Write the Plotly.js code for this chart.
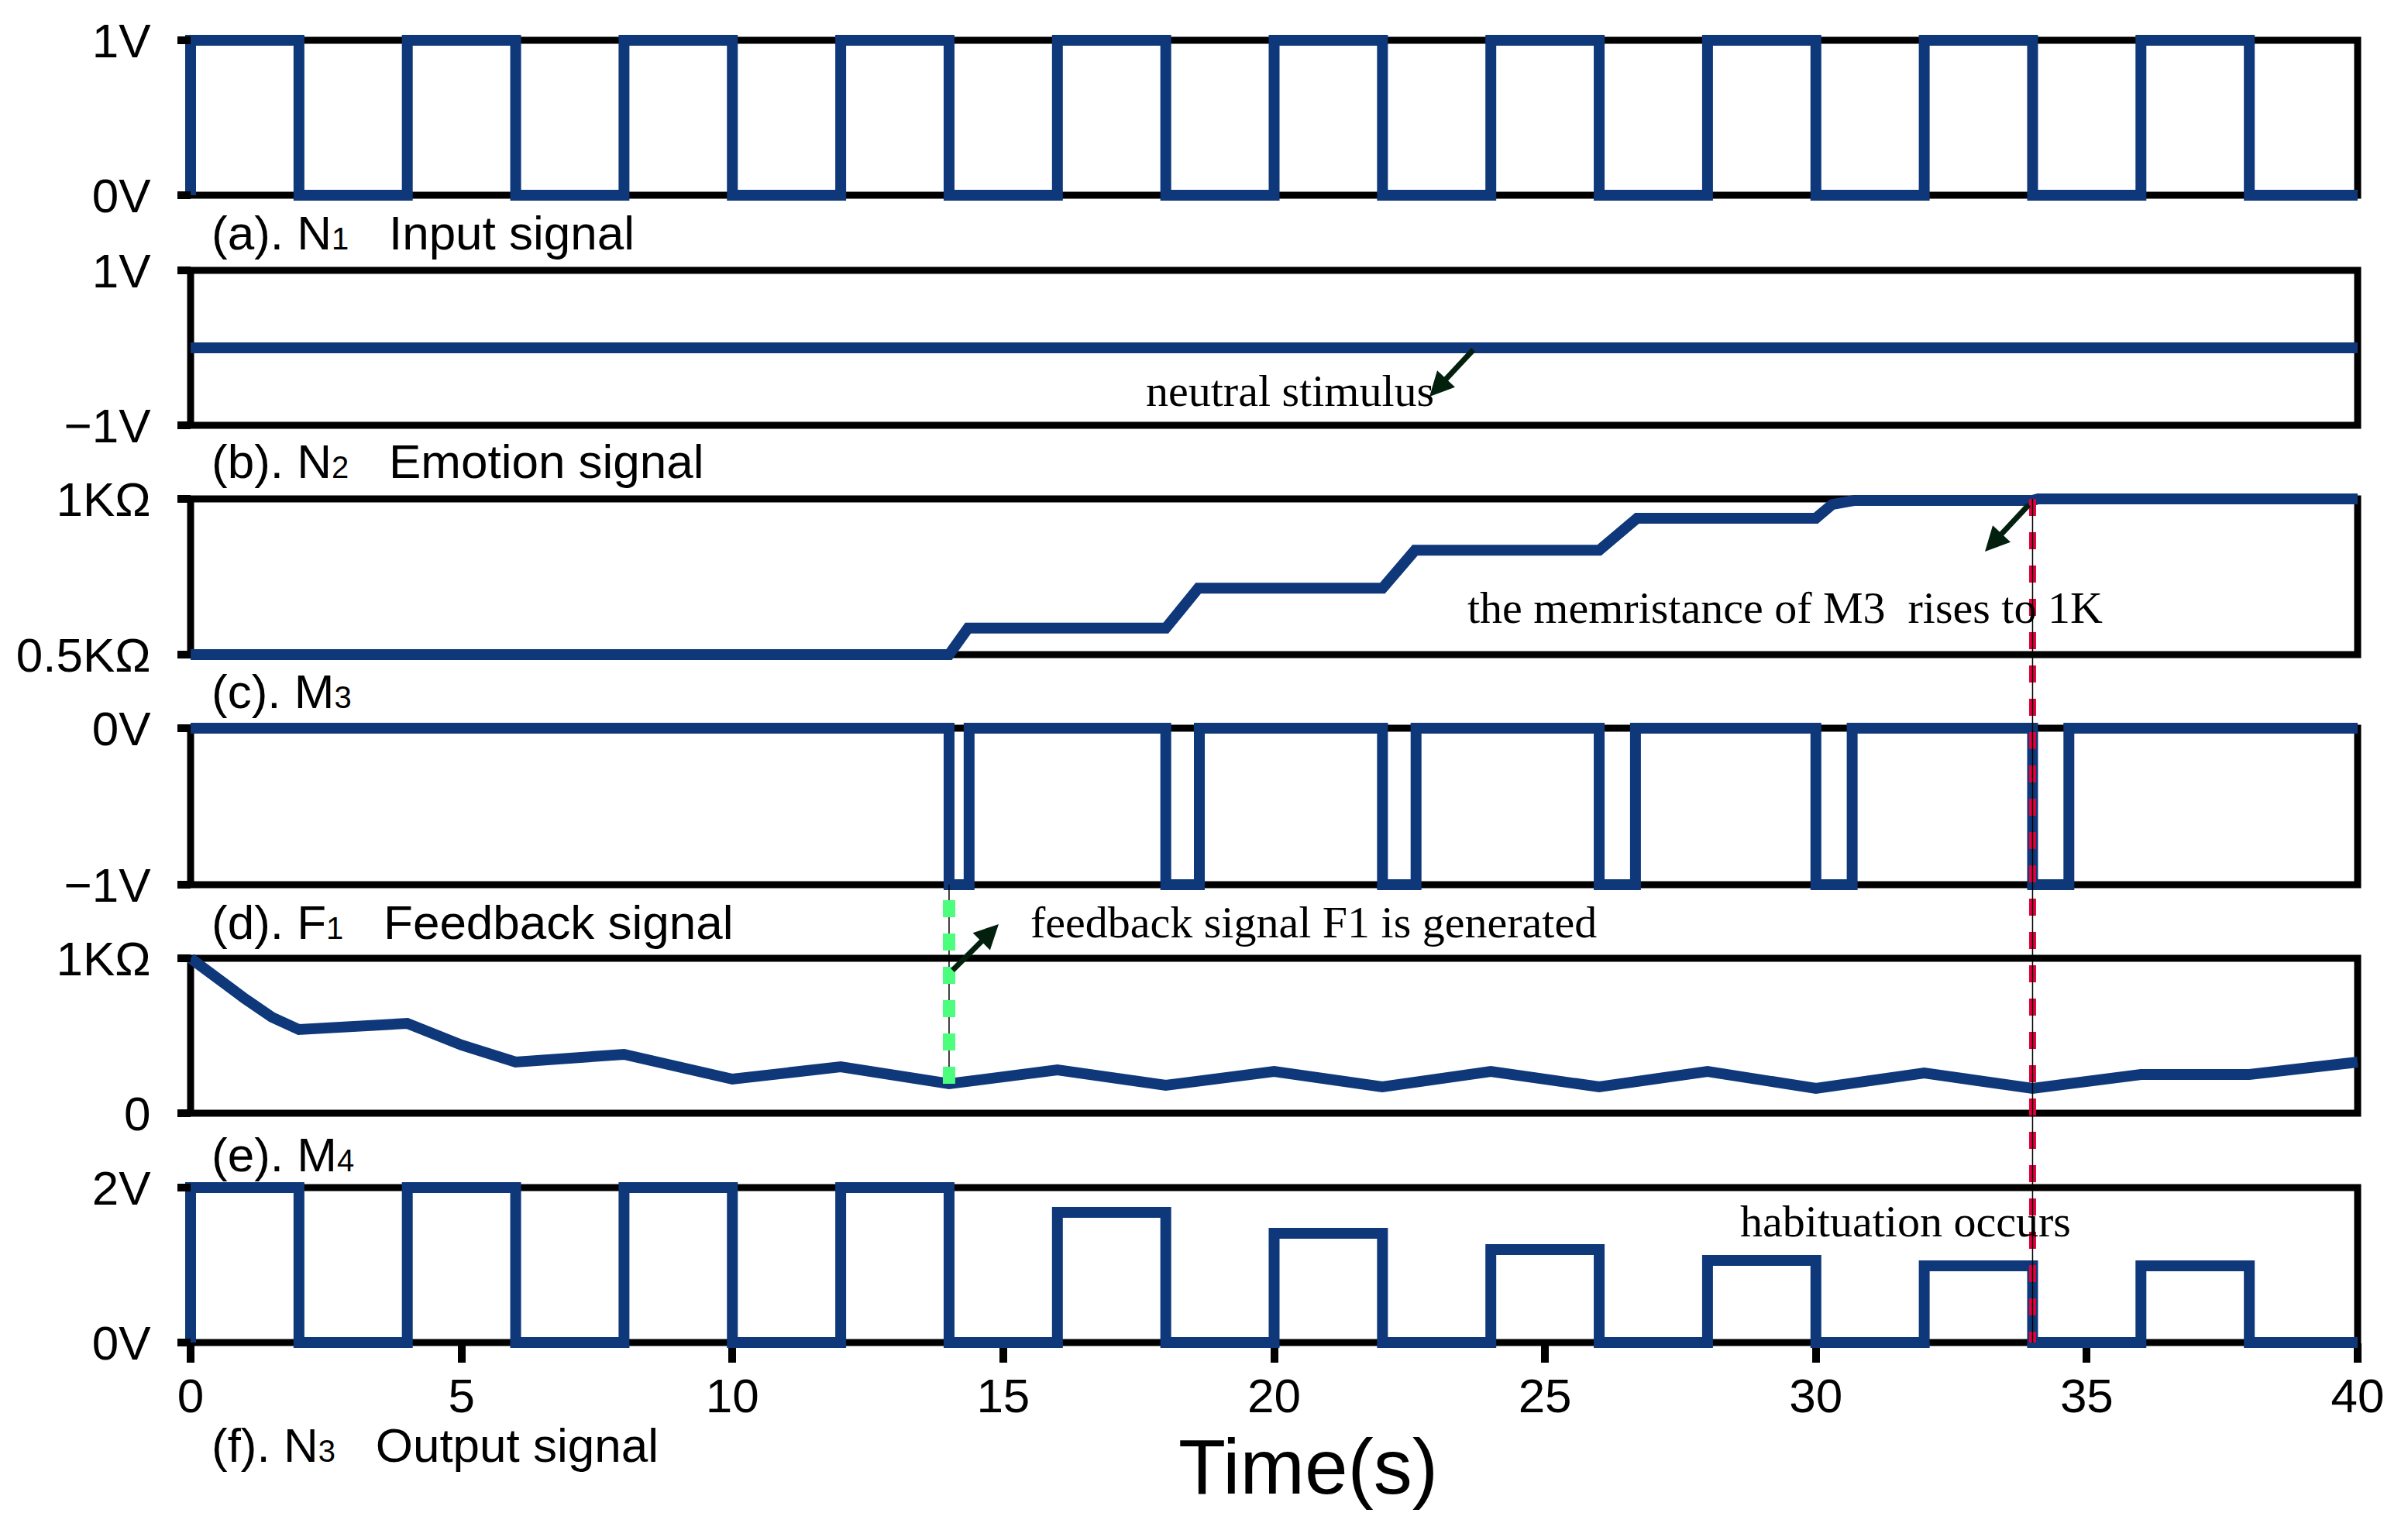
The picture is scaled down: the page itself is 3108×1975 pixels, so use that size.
<!DOCTYPE html>
<html>
<head>
<meta charset="utf-8">
<script src="https://cdn.plot.ly/plotly-3.0.1.min.js"></script>
<style>
  html, body { margin: 0; padding: 0; background: #fff; }
  #chart { width: 3108px; height: 1975px; }
</style>
</head>
<body>
<div id="chart"></div>
<script>
// ---- data (time in s) ----
var n1Time = [0, 0, 2, 4, 6, 8, 10, 12, 14, 16, 18, 20, 22, 24, 26, 28, 30, 32, 34, 36, 38, 40];
var n1Volt = [0, 1, 0, 1, 0, 1, 0, 1, 0, 1, 0, 1, 0, 1, 0, 1, 0, 1, 0, 1, 0, 0];

var n2Time = [0, 40];
var n2Volt = [0, 0];

var m3Time = [0, 14.0, 14.35, 18.0, 18.6, 22.0, 22.6, 26.0, 26.7, 30.0, 30.3, 30.7, 34.0, 34.1, 40];
var m3Kohm = [0.5, 0.5, 0.585, 0.585, 0.713, 0.713, 0.835, 0.835, 0.938, 0.938, 0.982, 0.995, 0.995, 1.0, 1.0];

var f1Time = [0, 14.0, 14.37, 18.0, 18.62, 22.0, 22.62, 26.0, 26.67, 30.0, 30.67, 34.0, 34.67, 40];
var f1Volt = [0, -1, 0, -1, 0, -1, 0, -1, 0, -1, 0, -1, 0, 0];

var m4Time = [0, 0.5, 1, 1.5, 2, 4, 5, 6, 8, 10, 12, 14, 16, 18, 20, 22, 24, 26, 28, 30, 32, 34, 36, 38, 40];
var m4Kohm = [1.0, 0.86, 0.74, 0.62, 0.54, 0.58, 0.44, 0.33, 0.38, 0.22, 0.30, 0.19, 0.28, 0.18, 0.27, 0.17, 0.27, 0.17, 0.27, 0.16, 0.26, 0.16, 0.25, 0.25, 0.33];

var n3Time = [0, 0, 2, 4, 6, 8, 10, 12, 14, 16, 18, 20, 22, 24, 26, 28, 30, 32, 34, 36, 38, 40];
var n3Volt = [0, 2, 0, 2, 0, 2, 0, 2, 0, 1.68, 0, 1.41, 0, 1.2, 0, 1.06, 0, 0.99, 0, 0.99, 0, 0];

// axis limits and tick labels per panel (a..f)
var yMin = [0, -1, 0.5, -1, 0, 0];
var yMax = [1, 1, 1, 0, 1, 2];
var yTickMin = ['0V', '\u22121V', '0.5K\u03a9', '\u22121V', '0', '0V'];
var yTickMax = ['1V', '1V', '1K\u03a9', '0V', '1K\u03a9', '2V'];
var xTickVals = [0, 5, 10, 15, 20, 25, 30, 35, 40];

var feedbackTime = 14;     // green marker
var habituationTime = 34;  // red marker

var sub = function (d) { return '<span style="font-size:40px">' + d + '</span>'; };
var gap = '\u00a0\u00a0\u00a0';
var panelLabels = [
  '(a). N' + sub(1) + gap + 'Input signal',
  '(b). N' + sub(2) + gap + 'Emotion signal',
  '(c). M' + sub(3),
  '(d). F' + sub(1) + gap + 'Feedback signal',
  '(e). M' + sub(4),
  '(f). N' + sub(3) + gap + 'Output signal'
];

// ---- page geometry (pixels) ----
var W_PAGE = 3108, H_PAGE = 1975;
var T0PX = 246, T40PX = 3043, PAD = 10;
var panelTop = [52, 349, 644, 940, 1237, 1533];
var panelBot = [252, 549, 845, 1142, 1437, 1733];
var labelY = [300, 596, 892, 1190, 1490, 1865];

var areaL = T0PX - PAD, areaR = T40PX + PAD;
var areaT = panelTop[0] - PAD, areaB = panelBot[5] + PAD;
var areaW = areaR - areaL, areaH = areaB - areaT;
var pxPerSec = (T40PX - T0PX) / 40;

function paperY(py) { return (areaB - py) / areaH; }
function paperX(px) { return (px - areaL) / areaW; }
function tAt(px) { return (px - T0PX) / pxPerSec; }
function vAt(i, py) {
  return yMin[i] + (panelBot[i] - py) / (panelBot[i] - panelTop[i]) * (yMax[i] - yMin[i]);
}
function valPaper(i, v) {
  return paperY(panelBot[i] - (v - yMin[i]) / (yMax[i] - yMin[i]) * (panelBot[i] - panelTop[i]));
}

var blue = '#0e387a';
var sans = 'Liberation Sans, Arial, sans-serif';
var serif = 'Liberation Serif, Times New Roman, serif';

var series = [
  [n1Time, n1Volt, 'hv'],
  [n2Time, n2Volt, 'linear'],
  [m3Time, m3Kohm, 'linear'],
  [f1Time, f1Volt, 'hv'],
  [m4Time, m4Kohm, 'linear'],
  [n3Time, n3Volt, 'hv']
];

var traces = series.map(function (s, i) {
  return {
    x: s[0], y: s[1], type: 'scatter', mode: 'lines',
    xaxis: 'x', yaxis: i === 0 ? 'y' : 'y' + (i + 1),
    line: { color: blue, width: 14, shape: s[2] },
    hoverinfo: 'skip', showlegend: false
  };
});

var layout = {
  width: W_PAGE, height: H_PAGE,
  margin: { l: areaL, r: W_PAGE - areaR, t: areaT, b: H_PAGE - areaB, pad: 0 },
  paper_bgcolor: '#fff', plot_bgcolor: 'rgba(0,0,0,0)',
  showlegend: false,
  font: { family: sans, color: '#000', size: 62 },
  xaxis: {
    range: [-PAD / pxPerSec, 40 + PAD / pxPerSec],
    anchor: 'free', position: paperY(panelBot[5]),
    tickvals: xTickVals, ticks: 'outside', ticklen: 25, tickwidth: 10, tickcolor: '#000',
    tickfont: { family: sans, size: 62, color: '#000' }, ticklabelstandoff: -10,
    showline: false, showgrid: false, zeroline: false, fixedrange: true
  },
  shapes: [],
  annotations: []
};

for (var i = 0; i < 6; i++) {
  var key = i === 0 ? 'yaxis' : 'yaxis' + (i + 1);
  var ref = i === 0 ? 'y' : 'y' + (i + 1);
  var u = (yMax[i] - yMin[i]) / (panelBot[i] - panelTop[i]);
  layout[key] = {
    domain: [paperY(panelBot[i] + PAD), paperY(panelTop[i] - PAD)],
    range: [yMin[i] - PAD * u, yMax[i] + PAD * u],
    anchor: 'free', position: paperX(T0PX),
    tickvals: [yMin[i], yMax[i]], ticktext: [yTickMin[i], yTickMax[i]],
    ticks: 'outside', ticklen: 17, tickwidth: 10, tickcolor: '#000',
    tickfont: { family: sans, size: 62, color: '#000' }, ticklabelstandoff: 22,
    showline: false, showgrid: false, zeroline: false, fixedrange: true
  };
  // panel frame
  layout.shapes.push({
    type: 'rect', xref: 'x', yref: ref, x0: 0, x1: 40, y0: yMin[i], y1: yMax[i],
    line: { color: '#000', width: 9 }, layer: 'below'
  });
  // panel caption
  layout.annotations.push({
    xref: 'paper', yref: 'paper', x: paperX(271), y: paperY(labelY[i]),
    xanchor: 'left', yanchor: 'middle', showarrow: false,
    text: panelLabels[i], font: { family: sans, size: 62, color: '#000' }
  });
}

// green marker: from the M4 curve at the feedback time up to F1 = -1V
var m4AtFeedback = m4Kohm[m4Time.indexOf(feedbackTime)];
var gY0 = valPaper(4, m4AtFeedback), gY1 = valPaper(3, -1);
// red marker: from M3 = 1K down to N3 = 0V at the habituation time
var rY0 = valPaper(2, 1), rY1 = valPaper(5, 0);

layout.shapes.push(
  { type: 'line', xref: 'x', yref: 'paper', x0: feedbackTime, x1: feedbackTime, y0: gY0, y1: gY1,
    line: { color: '#000', width: 1.5 } },
  { type: 'line', xref: 'x', yref: 'paper', x0: feedbackTime, x1: feedbackTime, y0: gY0, y1: gY1,
    line: { color: '#4dfd7e', width: 16, dash: '22px,21px' } },
  { type: 'line', xref: 'x', yref: 'paper', x0: habituationTime, x1: habituationTime, y0: rY0, y1: rY1,
    line: { color: '#e0023e', width: 9, dash: '22px,21px' } },
  { type: 'line', xref: 'x', yref: 'paper', x0: habituationTime, x1: habituationTime, y0: rY0, y1: rY1,
    line: { color: '#000', width: 1.5 } }
);

// notes in serif type
function note(text, px, py, anchor) {
  return {
    xref: 'paper', yref: 'paper', x: paperX(px), y: paperY(py),
    xanchor: anchor, yanchor: 'middle', showarrow: false, text: text,
    font: { family: serif, size: 58, color: '#000' }
  };
}
layout.annotations.push(
  note('neutral stimulus', 1665, 505, 'center'),
  note('the memristance of M3\u00a0 rises to 1K', 2716, 784, 'right'),
  note('feedback signal F1 is generated', 1328, 1190, 'left'),
  note('habituation occurs', 2244, 1576, 'left')
);

// arrows (head px, tail px, panel index)
function arrow(hx, hy, tx, ty, i) {
  var ref = i === 0 ? 'y' : 'y' + (i + 1);
  return {
    xref: 'x', yref: ref, axref: 'x', ayref: ref,
    x: tAt(hx), y: vAt(i, hy), ax: tAt(tx), ay: vAt(i, ty),
    text: '', showarrow: true, arrowhead: 2, arrowsize: 0.9, arrowwidth: 7,
    arrowcolor: '#03200f', standoff: 0, startstandoff: 0
  };
}
layout.annotations.push(
  arrow(1845, 512, 1903, 450, 1),
  arrow(2562, 712, 2620, 650, 2),
  arrow(1289, 1193, 1228, 1254, 4)
);

// x axis title
layout.annotations.push({
  xref: 'paper', yref: 'paper', x: paperX(1688), y: paperY(1893),
  xanchor: 'center', yanchor: 'middle', showarrow: false,
  text: 'Time(s)', font: { family: sans, size: 100, color: '#000' }
});

Plotly.newPlot('chart', traces, layout, { staticPlot: true, displayModeBar: false });
</script>
</body>
</html>
